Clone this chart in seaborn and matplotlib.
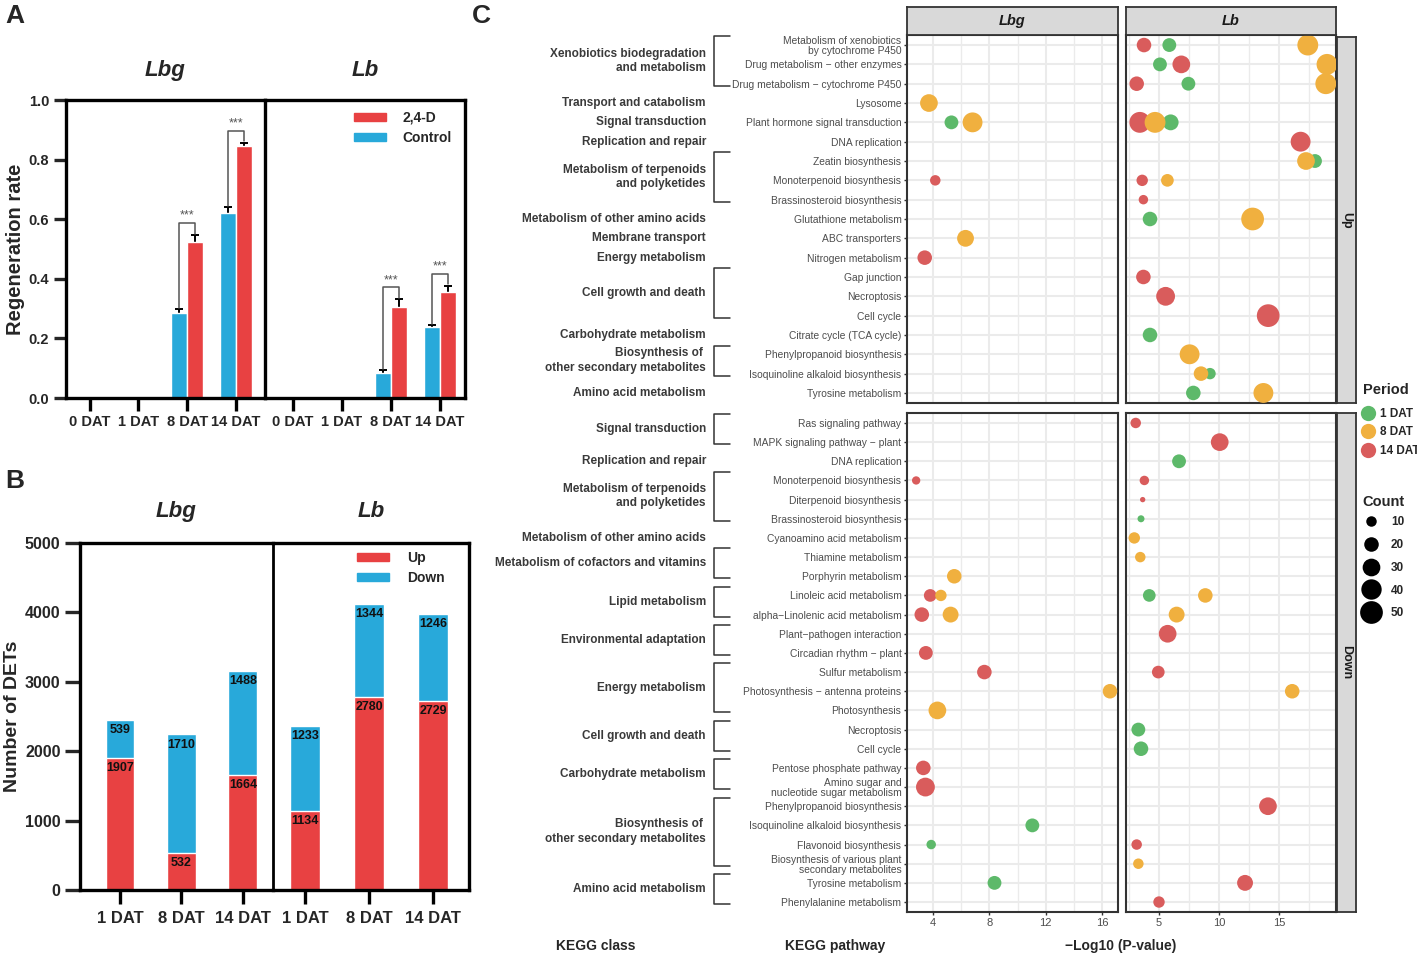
import matplotlib
matplotlib.use('Agg')
import matplotlib.pyplot as plt
from matplotlib.patches import Patch
from matplotlib.lines import Line2D
from matplotlib.ticker import MultipleLocator
import numpy as np
import pandas as pd
import seaborn as sns

W, H = 1417, 955

# ---------------- data: panel A (regeneration rate) ----------------
days_a = ['0 DAT', '1 DAT', '8 DAT', '14 DAT']
lbg_ctrl = [0, 0, 0.285, 0.620]
lbg_ctrl_err = [0, 0, 0.012, 0.020]
lbg_24d = [0, 0, 0.525, 0.845]
lbg_24d_err = [0, 0, 0.022, 0.012]
lb_ctrl = [0, 0, 0.085, 0.237]
lb_ctrl_err = [0, 0, 0.008, 0.007]
lb_24d = [0, 0, 0.305, 0.357]
lb_24d_err = [0, 0, 0.027, 0.020]

# ---------------- data: panel B (number of DETs) ----------------
days_b = ['1 DAT', '8 DAT', '14 DAT']
lbg_up = [1907, 532, 1664]
lbg_down = [539, 1710, 1488]
lb_up = [1134, 2780, 2729]
lb_down = [1233, 1344, 1246]

# ---------------- data: panel C (KEGG bubbles) ----------------
up_paths = ['Metabolism of xenobiotics\nby cytochrome P450', 'Drug metabolism − other enzymes',
            'Drug metabolism − cytochrome P450', 'Lysosome', 'Plant hormone signal transduction',
            'DNA replication', 'Zeatin biosynthesis', 'Monoterpenoid biosynthesis',
            'Brassinosteroid biosynthesis', 'Glutathione metabolism', 'ABC transporters',
            'Nitrogen metabolism', 'Gap junction', 'Necroptosis', 'Cell cycle',
            'Citrate cycle (TCA cycle)', 'Phenylpropanoid biosynthesis',
            'Isoquinoline alkaloid biosynthesis', 'Tyrosine metabolism']
down_paths = ['Ras signaling pathway', 'MAPK signaling pathway − plant', 'DNA replication',
              'Monoterpenoid biosynthesis', 'Diterpenoid biosynthesis', 'Brassinosteroid biosynthesis',
              'Cyanoamino acid metabolism', 'Thiamine metabolism', 'Porphyrin metabolism',
              'Linoleic acid metabolism', 'alpha−Linolenic acid metabolism', 'Plant−pathogen interaction',
              'Circadian rhythm − plant', 'Sulfur metabolism', 'Photosynthesis − antenna proteins',
              'Photosynthesis', 'Necroptosis', 'Cell cycle', 'Pentose phosphate pathway',
              'Amino sugar and\nnucleotide sugar metabolism', 'Phenylpropanoid biosynthesis',
              'Isoquinoline alkaloid biosynthesis', 'Flavonoid biosynthesis',
              'Biosynthesis of various plant\nsecondary metabolites', 'Tyrosine metabolism',
              'Phenylalanine metabolism']

up_classes = ['Xenobiotics biodegradation\nand metabolism', 'Transport and catabolism', 'Signal transduction',
              'Replication and repair', 'Metabolism of terpenoids\nand polyketides',
              'Metabolism of other amino acids', 'Membrane transport', 'Energy metabolism',
              'Cell growth and death', 'Carbohydrate metabolism',
              'Biosynthesis of \nother secondary metabolites', 'Amino acid metabolism']
up_class_sizes = [3, 1, 1, 1, 3, 1, 1, 1, 3, 1, 2, 1]
down_classes = ['Signal transduction', 'Replication and repair', 'Metabolism of terpenoids\nand polyketides',
                'Metabolism of other amino acids', 'Metabolism of cofactors and vitamins', 'Lipid metabolism',
                'Environmental adaptation', 'Energy metabolism', 'Cell growth and death',
                'Carbohydrate metabolism', 'Biosynthesis of \nother secondary metabolites',
                'Amino acid metabolism']
down_class_sizes = [2, 1, 3, 1, 2, 2, 2, 3, 2, 2, 4, 2]

# (pathway, period, -log10 p, count)
lbg_up_pts = [
    ('Lysosome', '8 DAT', 3.7, 30),
    ('Plant hormone signal transduction', '1 DAT', 5.3, 18),
    ('Plant hormone signal transduction', '8 DAT', 6.8, 38),
    ('Monoterpenoid biosynthesis', '14 DAT', 4.15, 10),
    ('ABC transporters', '8 DAT', 6.3, 27),
    ('Nitrogen metabolism', '14 DAT', 3.4, 20),
]
lb_up_pts = [
    ('Metabolism of xenobiotics\nby cytochrome P450', '14 DAT', 3.75, 20),
    ('Metabolism of xenobiotics\nby cytochrome P450', '1 DAT', 5.86, 18),
    ('Metabolism of xenobiotics\nby cytochrome P450', '8 DAT', 17.4, 42),
    ('Drug metabolism − other enzymes', '1 DAT', 5.08, 18),
    ('Drug metabolism − other enzymes', '14 DAT', 6.86, 30),
    ('Drug metabolism − other enzymes', '8 DAT', 19.0, 42),
    ('Drug metabolism − cytochrome P450', '14 DAT', 3.14, 20),
    ('Drug metabolism − cytochrome P450', '1 DAT', 7.45, 18),
    ('Drug metabolism − cytochrome P450', '8 DAT', 18.9, 42),
    ('Plant hormone signal transduction', '14 DAT', 3.4, 42),
    ('Plant hormone signal transduction', '8 DAT', 4.67, 42),
    ('Plant hormone signal transduction', '1 DAT', 5.97, 24),
    ('DNA replication', '14 DAT', 16.8, 38),
    ('Zeatin biosynthesis', '1 DAT', 18.0, 18),
    ('Zeatin biosynthesis', '8 DAT', 17.25, 30),
    ('Monoterpenoid biosynthesis', '14 DAT', 3.6, 12),
    ('Monoterpenoid biosynthesis', '8 DAT', 5.7, 15),
    ('Brassinosteroid biosynthesis', '14 DAT', 3.7, 8),
    ('Glutathione metabolism', '1 DAT', 4.25, 20),
    ('Glutathione metabolism', '8 DAT', 12.8, 51),
    ('Gap junction', '14 DAT', 3.7, 20),
    ('Necroptosis', '14 DAT', 5.55, 34),
    ('Cell cycle', '14 DAT', 14.1, 51),
    ('Citrate cycle (TCA cycle)', '1 DAT', 4.25, 20),
    ('Phenylpropanoid biosynthesis', '8 DAT', 7.55, 38),
    ('Isoquinoline alkaloid biosynthesis', '1 DAT', 9.25, 12),
    ('Isoquinoline alkaloid biosynthesis', '8 DAT', 8.5, 20),
    ('Tyrosine metabolism', '1 DAT', 7.86, 20),
    ('Tyrosine metabolism', '8 DAT', 13.7, 38),
]
lbg_down_pts = [
    ('Monoterpenoid biosynthesis', '14 DAT', 2.79, 6),
    ('Porphyrin metabolism', '8 DAT', 5.5, 20),
    ('Linoleic acid metabolism', '14 DAT', 3.79, 15),
    ('Linoleic acid metabolism', '8 DAT', 4.55, 12),
    ('alpha−Linolenic acid metabolism', '14 DAT', 3.19, 20),
    ('alpha−Linolenic acid metabolism', '8 DAT', 5.24, 24),
    ('Circadian rhythm − plant', '14 DAT', 3.48, 18),
    ('Sulfur metabolism', '14 DAT', 7.64, 20),
    ('Photosynthesis − antenna proteins', '8 DAT', 16.57, 20),
    ('Photosynthesis', '8 DAT', 4.3, 30),
    ('Pentose phosphate pathway', '14 DAT', 3.3, 20),
    ('Amino sugar and\nnucleotide sugar metabolism', '14 DAT', 3.45, 34),
    ('Isoquinoline alkaloid biosynthesis', '1 DAT', 11.05, 18),
    ('Flavonoid biosynthesis', '1 DAT', 3.86, 8),
    ('Tyrosine metabolism', '1 DAT', 8.36, 18),
]
lb_down_pts = [
    ('Ras signaling pathway', '14 DAT', 3.06, 10),
    ('MAPK signaling pathway − plant', '14 DAT', 10.06, 30),
    ('DNA replication', '1 DAT', 6.67, 18),
    ('Monoterpenoid biosynthesis', '14 DAT', 3.78, 8),
    ('Diterpenoid biosynthesis', '14 DAT', 3.64, 2),
    ('Brassinosteroid biosynthesis', '1 DAT', 3.5, 4),
    ('Cyanoamino acid metabolism', '8 DAT', 2.94, 12),
    ('Thiamine metabolism', '8 DAT', 3.44, 10),
    ('Linoleic acid metabolism', '1 DAT', 4.19, 15),
    ('Linoleic acid metabolism', '8 DAT', 8.86, 20),
    ('alpha−Linolenic acid metabolism', '8 DAT', 6.47, 24),
    ('Plant−pathogen interaction', '14 DAT', 5.72, 30),
    ('Sulfur metabolism', '14 DAT', 4.94, 15),
    ('Photosynthesis − antenna proteins', '8 DAT', 16.1, 20),
    ('Necroptosis', '1 DAT', 3.28, 18),
    ('Cell cycle', '1 DAT', 3.5, 20),
    ('Phenylpropanoid biosynthesis', '14 DAT', 14.08, 30),
    ('Flavonoid biosynthesis', '14 DAT', 3.14, 10),
    ('Biosynthesis of various plant\nsecondary metabolites', '8 DAT', 3.28, 10),
    ('Tyrosine metabolism', '14 DAT', 12.17, 24),
    ('Phenylalanine metabolism', '14 DAT', 5.0, 12),
]

periods = ['1 DAT', '8 DAT', '14 DAT']
period_colors = {'1 DAT': '#5DB96A', '8 DAT': '#F0B03F', '14 DAT': '#D95C5C'}
draw_rank = {'14 DAT': 0, '1 DAT': 1, '8 DAT': 2}
count_levels = [10, 20, 30, 40, 50]

RED = '#E84142'
BLUE = '#28A9DA'

sns.set_style('white')
plt.rcParams['font.family'] = ['Liberation Sans', 'DejaVu Sans']


def px_rect(l, t, r, b):
    return [l / W, 1 - b / H, (r - l) / W, (b - t) / H]


def count_area(c):
    # marker area in pt^2 for a count (diameter^2 ~ linear in count)
    return 1.1 * 0.518 * (7.5 + 9.25 * c)


def bold_ticks(ax):
    for lab in ax.get_xticklabels() + ax.get_yticklabels():
        lab.set_fontweight('bold')


fig = plt.figure(figsize=(W / 100, H / 100), dpi=100)

# ================= Panel A =================
def panel_a(ax, ctrl, ctrl_err, trt, trt_err, title, xlim):
    df = pd.DataFrame({'day': days_a * 2, 'rate': ctrl + trt,
                       'group': ['Control'] * 4 + ['2,4-D'] * 4})
    sns.barplot(data=df, x='day', y='rate', hue='group', hue_order=['Control', '2,4-D'],
                palette=[BLUE, RED], saturation=1, width=0.66, errorbar=None,
                legend=False, ax=ax, zorder=2)
    xs_c = [b.get_x() + b.get_width() / 2 for b in ax.containers[0]]
    xs_t = [b.get_x() + b.get_width() / 2 for b in ax.containers[1]]
    for xs, vals, errs in [(xs_c, ctrl, ctrl_err), (xs_t, trt, trt_err)]:
        idx = [i for i, v in enumerate(vals) if v > 0]
        # symmetric bars drawn under the columns, so only the upper half shows
        ax.errorbar([xs[i] for i in idx], [vals[i] for i in idx], yerr=[errs[i] for i in idx],
                    fmt='none', ecolor='black', elinewidth=1.4, capsize=2.8, capthick=1.4, zorder=1)
    for i in range(4):
        if ctrl[i] > 0:
            y0 = ctrl[i] + ctrl_err[i]
            y1 = trt[i] + trt_err[i]
            top = max(y0, y1) + 0.04
            ax.plot([xs_c[i], xs_c[i], xs_t[i], xs_t[i]], [y0 + 0.004, top, top, y1 + 0.004],
                    color='#555555', lw=1.1)
            ax.text((xs_c[i] + xs_t[i]) / 2, top + 0.004, '***', ha='center', va='bottom',
                    fontsize=9, color='#555555')
    ax.set_xlim(xlim)
    ax.set_ylim(0, 1.0)
    ax.set_xlabel('')
    ax.set_ylabel('')
    for s in ax.spines.values():
        s.set_linewidth(2.4)
        s.set_color('black')
        s.set_zorder(5)
    ax.tick_params(axis='x', bottom=True, length=9, width=2.4, labelsize=10.5, pad=3, color='black')
    ax.text(0.5, 1.1, title, transform=ax.transAxes, ha='center', va='center',
            fontsize=16, fontweight='bold', fontstyle='italic')


axA1 = fig.add_axes(px_rect(66, 100, 265, 398))
axA2 = fig.add_axes(px_rect(265, 100, 465, 398))
axA2.patch.set_visible(False)
panel_a(axA1, lbg_ctrl, lbg_ctrl_err, lbg_24d, lbg_24d_err, 'Lbg', (-0.49, 3.6))
panel_a(axA2, lb_ctrl, lb_ctrl_err, lb_24d, lb_24d_err, 'Lb', (-0.57, 3.51))
axA1.set_yticks(np.arange(0, 1.01, 0.2))
axA1.set_yticklabels([f'{v:.1f}' for v in np.arange(0, 1.01, 0.2)])
axA1.tick_params(axis='y', left=True, length=9, width=2.4, labelsize=10.5, pad=3)
axA1.set_ylabel('Regeneration rate', fontsize=14.5, fontweight='bold', labelpad=3)
axA2.spines['left'].set_visible(False)
axA2.tick_params(axis='y', left=False, labelleft=False)
bold_ticks(axA1)
bold_ticks(axA2)
axA2.legend(handles=[Patch(color=RED, label='2,4-D'), Patch(color=BLUE, label='Control')],
            loc='upper left', bbox_to_anchor=(354 / W, 1 - 111 / H), bbox_transform=fig.transFigure,
            frameon=False, handlelength=2.3, handleheight=0.55, handletextpad=1.2,
            labelspacing=0.42, borderpad=0, borderaxespad=0, prop={'weight': 'bold', 'size': 10})

# ================= Panel B =================
def panel_b(ax, up, down, title, xlim):
    total = [u + d for u, d in zip(up, down)]
    df = pd.DataFrame({'day': days_b, 'up': up, 'down': down, 'total': total})
    sns.barplot(data=df, x='day', y='total', color=BLUE, saturation=1, width=0.47,
                errorbar=None, ax=ax)
    sns.barplot(data=df, x='day', y='up', color=RED, saturation=1, width=0.47,
                errorbar=None, ax=ax)
    for cont, vals in [(ax.containers[0], down), (ax.containers[1], up)]:
        for bar, v in zip(cont, vals):
            ax.annotate(str(v), (bar.get_x() + bar.get_width() / 2, bar.get_height()),
                        xytext=(0, -3), textcoords='offset points', ha='center', va='top',
                        fontsize=9, fontweight='bold', color='#111111')
    ax.set_xlim(xlim)
    ax.set_ylim(0, 5000)
    ax.set_xlabel('')
    ax.set_ylabel('')
    for s in ax.spines.values():
        s.set_linewidth(2.4)
        s.set_color('black')
    ax.tick_params(axis='x', bottom=True, length=10, width=2.4, labelsize=12, pad=5, color='black')
    ax.text(0.5, 1.09, title, transform=ax.transAxes, ha='center', va='center',
            fontsize=16, fontweight='bold', fontstyle='italic')


axB1 = fig.add_axes(px_rect(80, 543, 273, 890))
axB2 = fig.add_axes(px_rect(273, 543, 469, 890))
axB2.patch.set_visible(False)
panel_b(axB1, lbg_up, lbg_down, 'Lbg', (-0.65, 2.49))
panel_b(axB2, lb_up, lb_down, 'Lb', (-0.5, 2.56))
axB1.set_yticks(range(0, 5001, 1000))
axB1.tick_params(axis='y', left=True, length=11, width=2.4, labelsize=11.5, pad=3)
axB1.set_ylabel('Number of DETs', fontsize=14, fontweight='bold', labelpad=3)
axB1.spines['right'].set_linewidth(2.0)
axB2.spines['left'].set_visible(False)
axB2.tick_params(axis='y', left=False, labelleft=False)
bold_ticks(axB1)
bold_ticks(axB2)
axB2.legend(handles=[Patch(color=RED, label='Up'), Patch(color=BLUE, label='Down')],
            loc='upper left', bbox_to_anchor=(357 / W, 1 - 551 / H), bbox_transform=fig.transFigure,
            frameon=False, handlelength=2.3, handleheight=0.55, handletextpad=1.3,
            labelspacing=0.42, borderpad=0, borderaxespad=0, prop={'weight': 'bold', 'size': 10})

# ================= Panel C =================
def bubble_facet(ax, pts, paths, xlim, major, minor, show_y, show_x):
    df = pd.DataFrame(pts, columns=['pathway', 'period', 'logp', 'count'])
    df['row'] = df['pathway'].map({p: i for i, p in enumerate(paths)})
    df['draw'] = df['period'].map(draw_rank)
    df = df.sort_values('draw', kind='stable')
    ax.set_axisbelow(True)
    sns.scatterplot(data=df, x='logp', y='row', hue='period', palette=period_colors,
                    size='count', sizes=(count_area(0), count_area(50)), size_norm=(0, 50),
                    edgecolor='none', linewidth=0, alpha=1, legend=False, ax=ax, zorder=3)
    ax.set_xlim(xlim)
    ax.set_ylim(len(paths) - 1 + 0.52, -0.52)
    ax.xaxis.set_major_locator(MultipleLocator(major))
    ax.xaxis.set_minor_locator(MultipleLocator(minor))
    ax.set_yticks(range(len(paths)))
    ax.grid(True, which='major', color='#EBEBEB', lw=1.5)
    ax.grid(True, which='minor', axis='x', color='#EBEBEB', lw=1.0)
    ax.set_xlabel('')
    ax.set_ylabel('')
    for s in ax.spines.values():
        s.set_linewidth(1.5)
        s.set_color('#333333')
    ax.tick_params(which='minor', length=0)
    if show_y:
        ax.set_yticklabels(paths, fontsize=7.4, color='#4D4D4D', linespacing=1.0)
        ax.tick_params(axis='y', left=True, length=2.5, width=1, color='#333333', pad=1.5)
    else:
        ax.tick_params(axis='y', left=False, labelleft=False)
    if show_x:
        ax.tick_params(axis='x', bottom=True, length=2.5, width=1, color='#333333',
                       labelsize=8, labelcolor='#4D4D4D', pad=2)
    else:
        ax.tick_params(axis='x', bottom=False, labelbottom=False)


axC_lbg_up = fig.add_axes(px_rect(907, 35, 1118, 403))
axC_lb_up = fig.add_axes(px_rect(1126, 35, 1336, 403))
axC_lbg_dn = fig.add_axes(px_rect(907, 413, 1118, 912))
axC_lb_dn = fig.add_axes(px_rect(1126, 413, 1336, 912))
bubble_facet(axC_lbg_up, lbg_up_pts, up_paths, (2.14, 17.14), 4, 2, True, False)
bubble_facet(axC_lb_up, lb_up_pts, up_paths, (2.25, 19.75), 5, 2.5, False, False)
bubble_facet(axC_lbg_dn, lbg_down_pts, down_paths, (2.14, 17.14), 4, 2, True, True)
bubble_facet(axC_lb_dn, lb_down_pts, down_paths, (2.25, 19.75), 5, 2.5, False, True)


def strip(rect, text, rotation=0, italic=False):
    sax = fig.add_axes(rect)
    sax.set_facecolor('#D9D9D9')
    sax.set_xticks([])
    sax.set_yticks([])
    for s in sax.spines.values():
        s.set_linewidth(1.3)
        s.set_color('#333333')
    sax.text(0.5, 0.5, text, transform=sax.transAxes, ha='center', va='center', rotation=rotation,
             fontsize=10.5 if italic else 9, fontweight='bold',
             fontstyle='italic' if italic else 'normal', color='#1A1A1A')


strip(px_rect(907, 7, 1118, 35), 'Lbg', italic=True)
strip(px_rect(1126, 7, 1336, 35), 'Lb', italic=True)
strip(px_rect(1337, 37, 1356, 403), 'Up', rotation=-90)
strip(px_rect(1337, 413, 1356, 912), 'Down', rotation=-90)


def class_column(rect, names, sizes, nrows):
    cax = fig.add_axes(rect)
    cax.set_xlim(0, 1)
    cax.set_ylim(nrows - 1 + 0.52, -0.52)
    cax.axis('off')
    start = 0
    for name, n in zip(names, sizes):
        end = start + n - 1
        if n > 1:
            top, bot = start - 0.45, end + 0.1
            cax.plot([0.98, 0.918, 0.918, 0.98], [top, top, bot, bot], color='#333333',
                     lw=1.1, clip_on=False)
            ymid = (top + bot) / 2
        else:
            ymid = start
        cax.text(0.886, ymid, name, ha='right', va='center', fontsize=8.5, fontweight='bold',
                 color='#3A3A3A', linespacing=1.25)
        start += n


class_column(px_rect(480, 35, 735, 403), up_classes, up_class_sizes, len(up_paths))
class_column(px_rect(480, 413, 735, 912), down_classes, down_class_sizes, len(down_paths))

fig.text(596 / W, 1 - 946 / H, 'KEGG class', ha='center', va='center', fontsize=10, fontweight='bold')
fig.text(835 / W, 1 - 946 / H, 'KEGG pathway', ha='center', va='center', fontsize=10, fontweight='bold')
fig.text(1121 / W, 1 - 946 / H, '−Log10 (P-value)', ha='center', va='center', fontsize=10,
         fontweight='bold')

# legends for panel C (titles as separate text for exact spacing)
fig.text(1363 / W, 1 - 390 / H, 'Period', ha='left', va='center', fontsize=10.5, fontweight='bold')
period_handles = [Line2D([], [], marker='o', linestyle='', markersize=11,
                         markerfacecolor=period_colors[p], markeredgecolor='none', label=p)
                  for p in periods]
fig.legend(handles=period_handles, loc='upper left',
           bbox_to_anchor=(1362 / W, 1 - 408 / H), frameon=False, handlelength=1.0,
           handletextpad=0.55, labelspacing=0.55, borderpad=0, borderaxespad=0,
           prop={'weight': 'bold', 'size': 8.5})
fig.text(1362 / W, 1 - 502 / H, 'Count', ha='left', va='center', fontsize=10.5, fontweight='bold')
count_handles = [Line2D([], [], marker='o', linestyle='', markersize=np.sqrt(count_area(c)),
                        markerfacecolor='black', markeredgecolor='none', label=str(c))
                 for c in count_levels]
fig.legend(handles=count_handles, loc='upper left',
           bbox_to_anchor=(1359 / W, 1 - 516 / H), frameon=False, handlelength=2.0,
           handletextpad=0.7, labelspacing=0.92, borderpad=0, borderaxespad=0,
           prop={'weight': 'bold', 'size': 8.5})

# panel letters
fig.text(5 / W, 1 - 16 / H, 'A', ha='left', va='center', fontsize=19, fontweight='bold')
fig.text(5 / W, 1 - 481 / H, 'B', ha='left', va='center', fontsize=19, fontweight='bold')
fig.text(472 / W, 1 - 16 / H, 'C', ha='left', va='center', fontsize=19, fontweight='bold')

fig.savefig('out.png', dpi=100)
